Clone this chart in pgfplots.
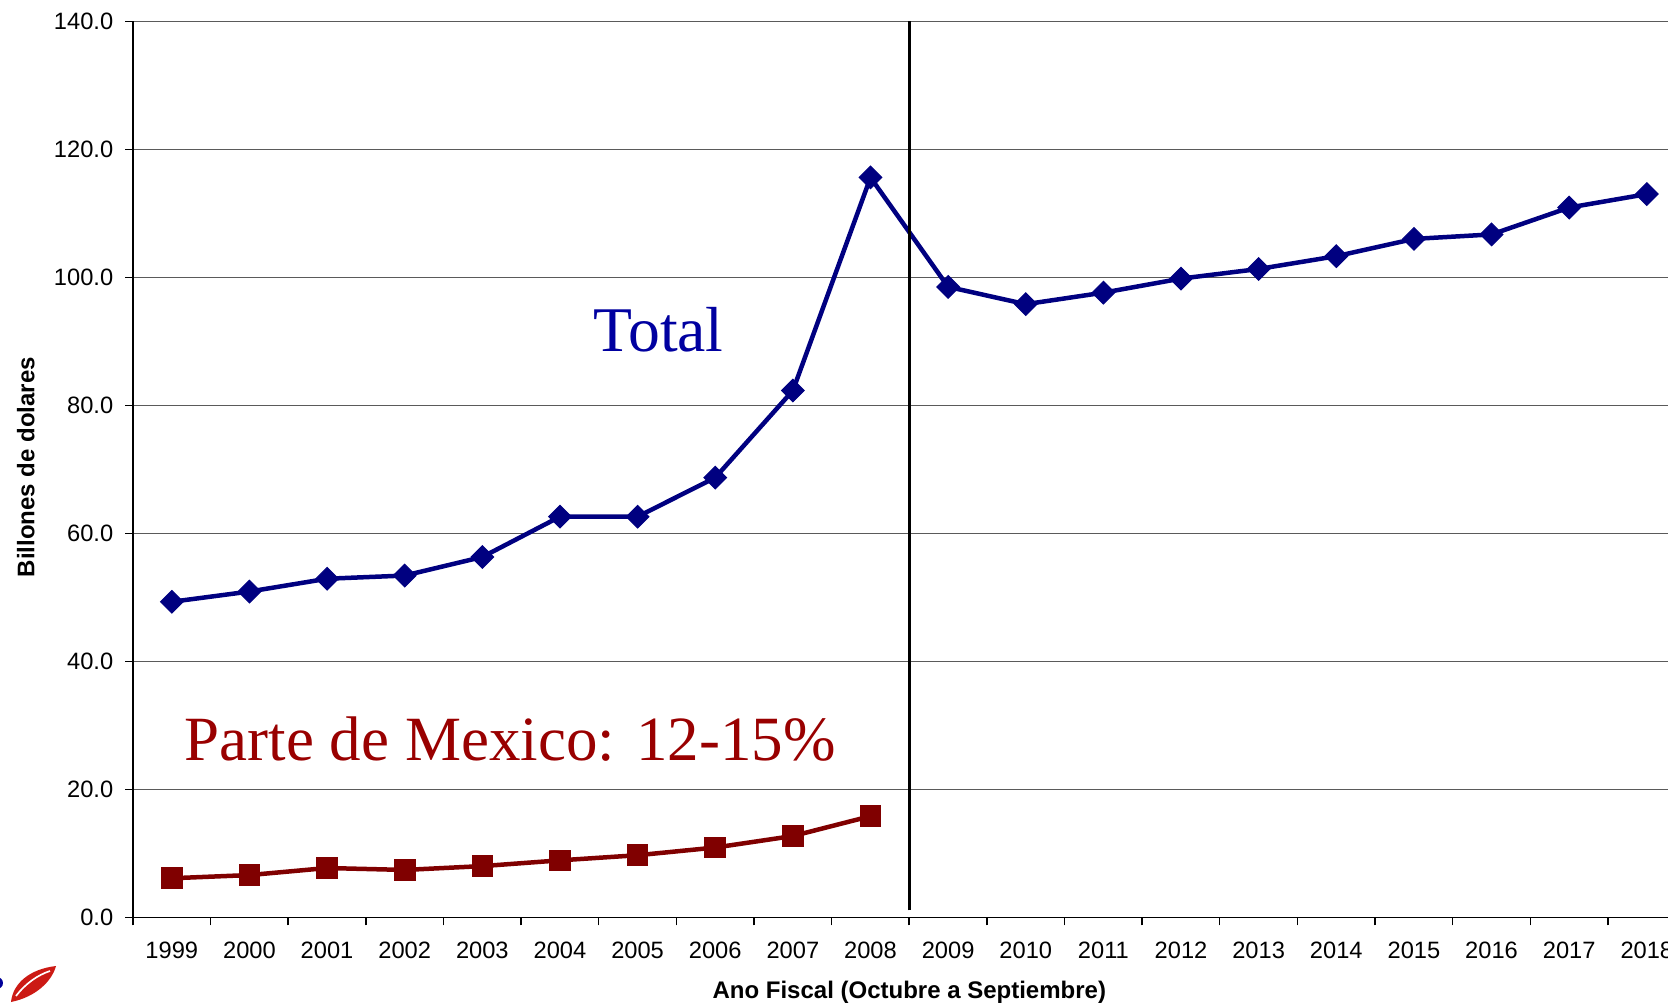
\documentclass[border=0pt]{standalone}
\usepackage{pgfplots}
\pgfplotsset{compat=1.18}
\usepackage{fontspec}
\setmainfont{Liberation Sans}
\newfontfamily\timesfont{Liberation Serif}

\definecolor{totblue}{HTML}{000080}
\definecolor{mexred}{HTML}{800000}
\definecolor{txtblue}{HTML}{0000A0}
\definecolor{txtred}{HTML}{990000}
\definecolor{gridgray}{HTML}{5A5A5A}
\definecolor{logored}{HTML}{CC1A14}

% Total, billones de dolares
\pgfplotstableread{
year total
1999 49.3
2000 50.9
2001 52.9
2002 53.4
2003 56.3
2004 62.6
2005 62.6
2006 68.7
2007 82.3
2008 115.6
2009 98.5
2010 95.8
2011 97.6
2012 99.8
2013 101.3
2014 103.3
2015 106.0
2016 106.7
2017 110.9
2018 113.0
}\totaldata

% Parte de Mexico
\pgfplotstableread{
year mex
1999 6.1
2000 6.6
2001 7.7
2002 7.4
2003 8.0
2004 8.9
2005 9.7
2006 10.9
2007 12.7
2008 15.8
}\mexdata

\begin{document}
\begin{tikzpicture}[x=0.3pt,y=0.3pt]
\begin{axis}[
  at={(39.9pt,26.31pt)}, anchor=south west,
  scale only axis, width=465.8pt, height=268.8pt,
  xmin=1998.5, xmax=2018.5, ymin=0, ymax=140,
  axis x line*=bottom, axis y line*=left,
  axis line style={black, line width=0.45pt},
  tick align=outside, major tick length=0pt, minor tick length=2.4pt,
  tick style={black, line width=0.45pt},
  ytick={0,20,...,140},
  minor ytick={0,20,...,140},
  ymajorgrids, grid style={draw=gridgray, line width=0.4pt},
  xtick={1999,2000,...,2018},
  xticklabels={1999,2000,2001,2002,2003,2004,2005,2006,2007,2008,2009,2010,2011,2012,2013,2014,2015,2016,2017,2018},
  minor xtick={1998.5,1999.5,...,2018.5},
  tick label style={font=\fontsize{7.1}{8.5}\selectfont},
  xticklabel style={yshift=-4pt},
  yticklabel style={/pgf/number format/.cd, fixed, fixed zerofill, precision=1, /tikz/.cd, anchor=east, xshift=-2.4pt},
  /pgf/number format/assume math mode=true,
]
\addplot[totblue, line width=1.35pt, mark=square*, mark size=2.4pt,
  mark options={rotate=45, solid, fill=totblue, line width=0.3pt}] table[x=year, y=total] {\totaldata};
\addplot[mexred, line width=1.35pt, mark=square*, mark size=3.1pt,
  mark options={solid, fill=mexred, line width=0.3pt}] table[x=year, y=mex] {\mexdata};
\addplot[black, line width=0.9pt] coordinates {(2008.5,1.1) (2008.5,140)};
\end{axis}

\node[anchor=base west, inner sep=0pt, text=txtblue, font=\timesfont\fontsize{19.1}{22}\selectfont] at (593,653.3) {Total};
\node[anchor=base west, inner sep=0pt, text=txtred, font=\timesfont\fontsize{18.9}{22}\selectfont] at (184,245) {Parte de Mexico: 12-15\%};
\node[anchor=base, inner sep=0pt, font=\bfseries\fontsize{7.2}{8.6}\selectfont] at (909.3,6.7) {Ano Fiscal (Octubre a Septiembre)};
\node[anchor=base, rotate=90, inner sep=0pt, font=\bfseries\fontsize{7.2}{8.6}\selectfont] at (34.3,538) {Billones de dolares};

% logo fragment
\fill[blue!60!black] (-3,22) circle (6);
\fill[logored] (11,3) .. controls (13,22) and (30,36) .. (56,39) .. controls (52,24) and (36,8) .. (11,3);
\draw[white, line width=0.5pt] (16,9) .. controls (26,22) and (38,30) .. (50,34);

\pgfresetboundingbox
\path (0,0) rectangle (1668,1005);
\end{tikzpicture}
\end{document}
